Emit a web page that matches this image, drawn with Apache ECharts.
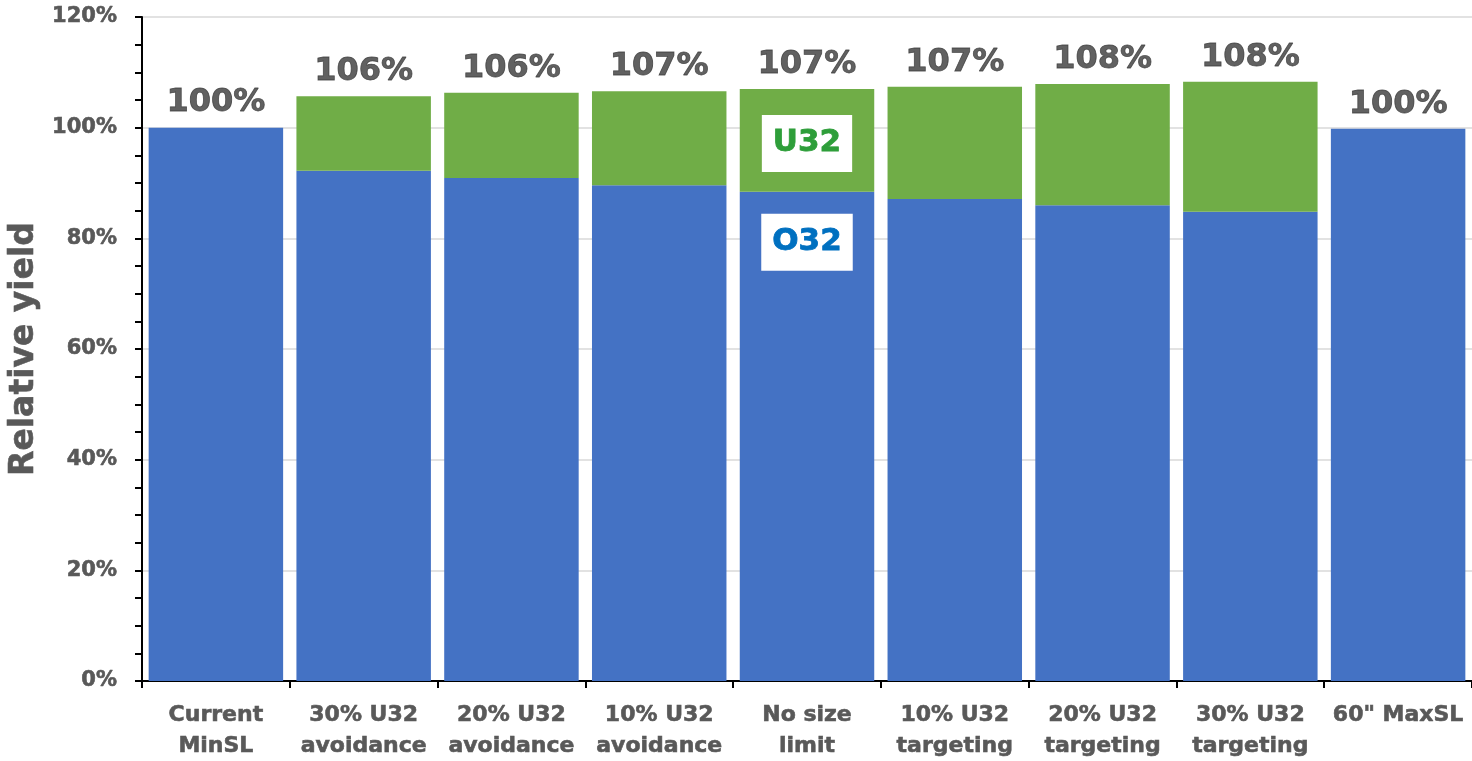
<!DOCTYPE html>
<html>
<head>
<meta charset="utf-8">
<script src="https://cdn.jsdelivr.net/npm/echarts@6/dist/echarts.min.js"></script>
<style>html,body{margin:0;padding:0;background:#fff}#c{width:1472px;height:761px}</style>
</head>
<body>
<div id="c"></div>
<script>
const categories = ['Current\nMinSL', '30% U32\navoidance', '20% U32\navoidance', '10% U32\navoidance', 'No size\nlimit', '10% U32\ntargeting', '20% U32\ntargeting', '30% U32\ntargeting', '60" MaxSL'];
const o32 = [100, 92.2, 90.9, 89.6, 88.4, 87.1, 86.0, 84.8, 99.8];
const u32 = [0, 13.5, 15.4, 17.0, 18.6, 20.3, 21.9, 23.5, 0];
const yTicks = [0, 20, 40, 60, 80, 100, 120];
const annotatedIndex = 4;

const totals = o32.map((v, i) => +(v + u32[i]).toFixed(2));
const FONT = 'DejaVu Sans';

function boxLabel(color, dist) {
  return {
    show: true, position: 'insideTop', distance: dist, formatter: '{a}',
    backgroundColor: '#fff', color: color, fontFamily: FONT, fontWeight: 'bold',
    fontSize: 31, lineHeight: 31, padding: [13, 11, 13, 11],
    textBorderColor: color, textBorderWidth: 0.8
  };
}

const chart = echarts.init(document.getElementById('c'));
chart.setOption({
  animation: false,
  backgroundColor: '#fff',
  grid: { left: 142, right: 0, top: 17, bottom: 80, containLabel: false, outerBoundsMode: 'none' },
  xAxis: {
    type: 'category', data: categories,
    axisLine: { lineStyle: { color: '#000', width: 2 } },
    axisTick: { show: true, length: 7, lineStyle: { color: '#000', width: 2 } },
    axisLabel: { color: '#595959', fontFamily: FONT, fontWeight: 'bold', fontSize: 22, lineHeight: 31, margin: 19, interval: 0,
      textBorderColor: '#595959', textBorderWidth: 0.6 }
  },
  yAxis: {
    type: 'value', min: yTicks[0], max: yTicks[yTicks.length - 1], interval: 20,
    name: 'Relative yield', nameLocation: 'middle', nameGap: 95, nameRotate: 90,
    nameTextStyle: { color: '#595959', fontFamily: FONT, fontWeight: 'bold', fontSize: 33, textBorderColor: '#595959', textBorderWidth: 0.6 },
    axisLine: { show: true, lineStyle: { color: '#000', width: 2 } },
    axisTick: { show: true, length: 7, lineStyle: { color: '#000', width: 2 } },
    minorTick: { show: true, splitNumber: 4, length: 7, lineStyle: { color: '#000', width: 2 } },
    splitLine: { show: true, lineStyle: { color: '#d9d9d9', width: 1.5 } },
    axisLabel: { color: '#595959', fontFamily: FONT, fontWeight: 'bold', fontSize: 21, margin: 25, formatter: v => v + '%',
      textBorderColor: '#595959', textBorderWidth: 0.6 }
  },
  series: [
    {
      name: 'O32', type: 'bar', stack: 'y', barCategoryGap: '9%',
      itemStyle: { color: '#4472C4' },
      data: o32.map((v, i) => i === annotatedIndex ? { value: v, label: boxLabel('#0070C0', 22) } : v)
    },
    {
      name: 'U32', type: 'bar', stack: 'y', barCategoryGap: '9%',
      itemStyle: { color: '#70AD47' },
      data: u32.map((v, i) => i === annotatedIndex ? { value: v, label: boxLabel('#2E9E3A', 26) } : v)
    },
    {
      name: 'Total', type: 'scatter', symbolSize: 1, itemStyle: { color: 'rgba(0,0,0,0)' }, z: 5,
      label: { show: true, position: 'top', distance: 8, color: '#3a3a3a', fontFamily: FONT, fontWeight: 'bold', fontSize: 32,
        textBorderColor: '#3a3a3a', textBorderWidth: 0.8,
        formatter: p => Math.round(p.value) + '%' },
      data: totals
    }
  ]
});
</script>
</body>
</html>
